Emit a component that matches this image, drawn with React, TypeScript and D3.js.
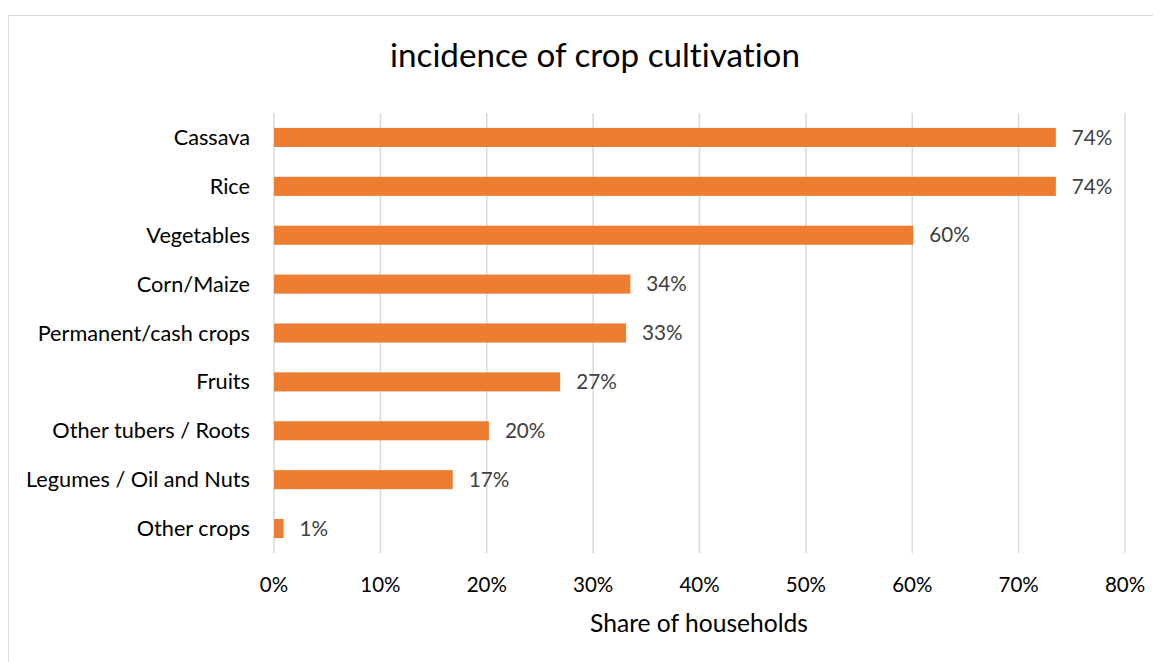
import React from 'react'
import * as d3 from 'd3'

const categories = ['Cassava', 'Rice', 'Vegetables', 'Corn/Maize', 'Permanent/cash crops', 'Fruits', 'Other tubers / Roots', 'Legumes / Oil and Nuts', 'Other crops']
const values = [0.735, 0.735, 0.601, 0.335, 0.331, 0.269, 0.202, 0.168, 0.009]
const valueLabels = ['74%', '74%', '60%', '34%', '33%', '27%', '20%', '17%', '1%']
const xTicks = [0, 0.1, 0.2, 0.3, 0.4, 0.5, 0.6, 0.7, 0.8]

const width = 1153
const height = 654
const margin = { top: 105, right: 36, bottom: 109, left: 266 }
const font = 'Lato, "Open Sans", sans-serif'

export default function App() {
  const x = d3.scaleLinear().domain([0, 0.8]).range([margin.left, width - margin.right])
  const y = d3.scaleBand().domain(categories).range([margin.top, height - margin.bottom]).paddingInner(0.61).paddingOuter(0.305)
  const fmt = d3.format('.0%')

  return (
    <svg width={width} height={height} style={{ display: 'block', fontFamily: font, fontVariantLigatures: 'none' }}>
      <rect x={0.5} y={7.5} width={width + 10} height={height + 10} fill='#fff' stroke='#d9d9d9' />
      <text x={587} y={59} textAnchor='middle' fontSize={33.2} fill='#000'>incidence of crop cultivation</text>

      {xTicks.map(t =>
        <line key={t} x1={x(t)} x2={x(t)} y1={margin.top} y2={height - margin.bottom} stroke='#d9d9d9' strokeWidth={1.5} />
      )}

      {categories.map((c, i) =>
        <g key={c}>
          <rect x={x(0)} y={y(c)} width={x(values[i]) - x(0)} height={y.bandwidth()} fill='#ed7d31' />
          <text x={242} y={y(c)! + y.bandwidth() / 2} dy='0.35em' textAnchor='end' fontSize={21.7} fill='#000'>{c}</text>
          <text x={x(values[i]) + 16} y={y(c)! + y.bandwidth() / 2} dy='0.35em' fontSize={20.7} fill='#404040'>{valueLabels[i]}</text>
        </g>
      )}

      {xTicks.map(t =>
        <text key={t} x={x(t)} y={577} dy='0.35em' textAnchor='middle' fontSize={20.5} fill='#000'>{fmt(t)}</text>
      )}
      <text x={691} y={624} textAnchor='middle' fontSize={24.6} fill='#000'>Share of households</text>
    </svg>
  )
}
